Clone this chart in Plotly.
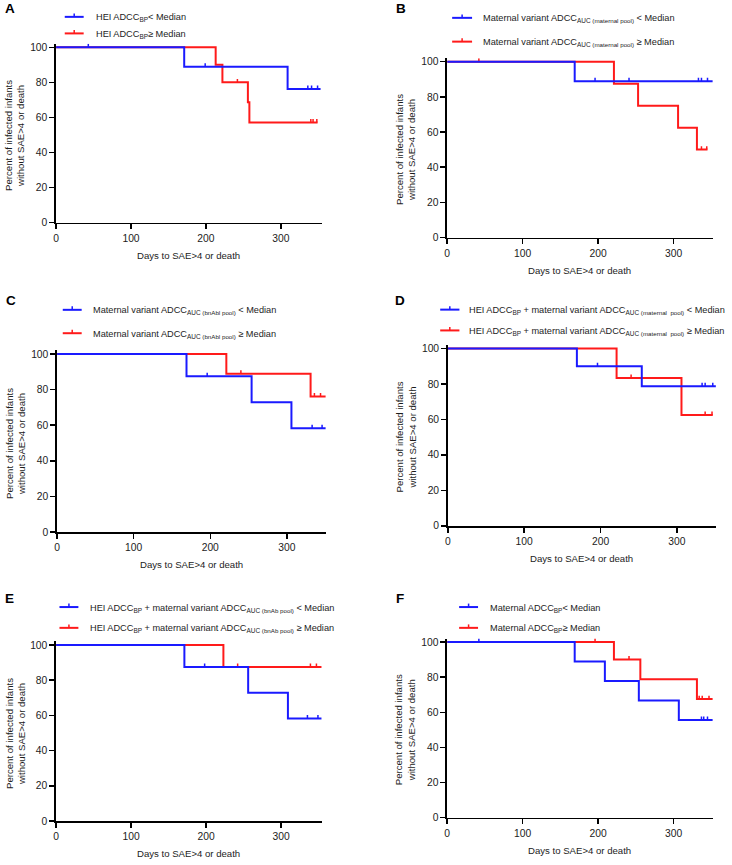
import plotly.graph_objects as go

# ------------------------------------------------------------------ data
X_TICKS = [0, 100, 200, 300]
Y_TICKS = [0, 20, 40, 60, 80, 100]
X_TITLE = "Days to SAE>4 or death"
Y_TITLE = "Percent of infected infants<br>without SAE>4 or death"

# Panel A
A_low_times = [0, 171, 309]
A_low_surv = [100, 88.9, 76.2]
A_low_censor = [43, 199, 336, 341, 349]
A_low_end = 353
A_high_times = [0, 213, 222, 256, 258]
A_high_surv = [100, 90, 80, 68.6, 57.1]
A_high_censor = [242, 340, 343, 348]
A_high_end = 349
A_labels = ["HEI ADCC<sub>BP</sub>< Median", "HEI ADCC<sub>BP</sub>\u2265 Median"]

# Panel B
B_low_times = [0, 169]
B_low_surv = [100, 88.9]
B_low_censor = [196, 241, 333, 337, 345]
B_low_end = 352
B_high_times = [0, 221, 253, 306, 331]
B_high_surv = [100, 87.5, 75, 62.5, 50]
B_high_censor = [42, 337, 344]
B_high_end = 345
B_labels = [
    "Maternal variant ADCC<sub>AUC <span style='font-size:6.2px'>(maternal pool)</span></sub> < Median",
    "Maternal variant ADCC<sub>AUC <span style='font-size:6.2px'>(maternal pool)</span></sub> \u2265 Median",
]

# Panel C
C_low_times = [0, 169, 254, 306]
C_low_surv = [100, 87.5, 72.9, 58.3]
C_low_censor = [196, 333, 346]
C_low_end = 351
C_high_times = [0, 221, 331]
C_high_surv = [100, 88.9, 76.2]
C_high_censor = [240, 336, 344]
C_high_end = 351
C_labels = [
    "Maternal variant ADCC<sub>AUC <span style='font-size:6.2px'>(bnAbl pool)</span></sub> < Median",
    "Maternal variant ADCC<sub>AUC <span style='font-size:6.2px'>(bnAbl pool)</span></sub> \u2265 Median",
]

# Panel D
D_low_times = [0, 169, 254]
D_low_surv = [100, 90, 78.75]
D_low_censor = [196, 333, 337, 347]
D_low_end = 351
D_high_times = [0, 221, 306]
D_high_surv = [100, 83.3, 62.5]
D_high_censor = [240, 337, 346]
D_high_end = 347
D_labels = [
    "HEI ADCC<sub>BP</sub> + maternal variant ADCC<sub>AUC <span style='font-size:6.2px'>(maternal  pool)</span></sub> < Median",
    "HEI ADCC<sub>BP</sub> + maternal variant ADCC<sub>AUC <span style='font-size:6.2px'>(maternal  pool)</span></sub> \u2265 Median",
]

# Panel E
E_low_times = [0, 171, 256, 309]
E_low_surv = [100, 87.5, 72.9, 58.3]
E_low_censor = [198, 335, 349]
E_low_end = 354
E_high_times = [0, 223]
E_high_surv = [100, 87.5]
E_high_censor = [242, 339, 347]
E_high_end = 354
E_labels = [
    "HEI ADCC<sub>BP</sub> + maternal variant ADCC<sub>AUC <span style='font-size:6.2px'>(bnAb pool)</span></sub> < Median",
    "HEI ADCC<sub>BP</sub> + maternal variant ADCC<sub>AUC <span style='font-size:6.2px'>(bnAb pool)</span></sub> \u2265 Median",
]

# Panel F
F_low_times = [0, 169, 209, 254, 307]
F_low_surv = [100, 88.9, 77.8, 66.7, 55.6]
F_low_censor = [42, 337, 340, 345]
F_low_end = 352
F_high_times = [0, 221, 256, 331]
F_high_surv = [100, 90, 78.75, 67.5]
F_high_censor = [196, 241, 334, 338, 347]
F_high_end = 352
F_labels = ["Maternal ADCC<sub>BP</sub>< Median", "Maternal ADCC<sub>BP</sub>\u2265 Median"]

DATA = {
    "A": [(A_high_times, A_high_surv, A_high_censor, A_high_end), (A_low_times, A_low_surv, A_low_censor, A_low_end), A_labels],
    "B": [(B_high_times, B_high_surv, B_high_censor, B_high_end), (B_low_times, B_low_surv, B_low_censor, B_low_end), B_labels],
    "C": [(C_high_times, C_high_surv, C_high_censor, C_high_end), (C_low_times, C_low_surv, C_low_censor, C_low_end), C_labels],
    "D": [(D_high_times, D_high_surv, D_high_censor, D_high_end), (D_low_times, D_low_surv, D_low_censor, D_low_end), D_labels],
    "E": [(E_high_times, E_high_surv, E_high_censor, E_high_end), (E_low_times, E_low_surv, E_low_censor, E_low_end), E_labels],
    "F": [(F_high_times, F_high_surv, F_high_censor, F_high_end), (F_low_times, F_low_surv, F_low_censor, F_low_end), F_labels],
}

# ------------------------------------------------------------------ layout (pixel geometry)
W, H = 732, 865
PANELS = {
    "A": dict(x0=53.3, x1=320, y0=222.7, y100=45.7, xmax=354.5, letter=(0.5, 6.5), leg=(15, 31.7), glyph=(62, 81), tx=91, ytx=12),
    "B": dict(x0=446, x1=712.7, y0=237.7, y100=60.3, xmax=352, letter=(392.7, 6.7), leg=(16, 40), glyph=(451, 471), tx=480, ytx=404),
    "C": dict(x0=54.3, x1=324, y0=535, y100=355.3, xmax=350.7, letter=(1.5, 301.7), leg=(310.7, 334.3), glyph=(60, 79), tx=88, ytx=12),
    "D": dict(x0=446.7, x1=716, y0=528.7, y100=349.7, xmax=351.3, letter=(392, 301.7), leg=(310.5, 331.5), glyph=(439, 458.3), tx=466, ytx=404),
    "E": dict(x0=53.3, x1=320, y0=826.7, y100=649, xmax=354, letter=(0.5, 601.7), leg=(610.7, 631.7), glyph=(56.7, 75.7), tx=85, ytx=12),
    "F": dict(x0=446, x1=712.7, y0=823.3, y100=646, xmax=352, letter=(392.7, 601.7), leg=(610.7, 631.7), glyph=(458, 477), tx=486.7, ytx=404),
}
YTOP = 102.0
COLORS = ["#ff1a1a", "#1a1aff"]  # high (red), low (blue)
FONT = "Arial, Liberation Sans, Helvetica, sans-serif"
TXT = "#1c1c1c"


def px(x):
    return x / W


def py(y):
    return 1 - y / H


def surv_at(times, surv, t):
    s = surv[0]
    for ti, si in zip(times, surv):
        if ti <= t:
            s = si
    return s


fig = go.Figure()
layout = dict(
    width=W, height=H, margin=dict(l=0, r=0, t=0, b=0),
    paper_bgcolor="white", plot_bgcolor="white", showlegend=False,
    font=dict(family=FONT, color=TXT),
)
annotations = []
shapes = []

for i, key in enumerate(["A", "B", "C", "D", "E", "F"]):
    p = PANELS[key]
    n = "" if i == 0 else str(i + 1)
    xa, ya = "x" + n, "y" + n
    pxh = (p["y0"] - p["y100"]) / 100.0
    ytop_px = p["y100"] - (YTOP - 100) * pxh
    axis_common = dict(
        showline=True, linecolor="black", linewidth=1.7,
        ticks="outside", ticklen=5, tickwidth=1.5, tickcolor="black",
        showgrid=False, zeroline=False, fixedrange=True,
        tickfont=dict(size=10.3, family=FONT, color=TXT),
    )
    layout["xaxis" + n] = dict(
        axis_common, domain=[px(p["x0"]), px(p["x1"])], range=[0, p["xmax"]],
        tickvals=X_TICKS, anchor=ya,
    )
    layout["yaxis" + n] = dict(
        axis_common, domain=[py(p["y0"]), py(ytop_px)], range=[0, YTOP],
        tickvals=Y_TICKS, anchor=xa,
    )
    high, low, labels = DATA[key]
    tick_h = 3.5 / pxh
    for (times, surv, cens, end), col in zip([high, low], COLORS):
        xs = list(times) + [end]
        ys = list(surv) + [surv[-1]]
        fig.add_trace(go.Scatter(
            x=xs, y=ys, mode="lines", line=dict(color=col, width=2, shape="hv"),
            xaxis=xa, yaxis=ya, hoverinfo="skip",
        ))
        cy = [surv_at(times, surv, t) for t in cens]
        fig.add_trace(go.Scatter(
            x=cens, y=cy, mode="markers",
            marker=dict(size=1, color="rgba(0,0,0,0)"),
            error_y=dict(type="data", symmetric=False, array=[tick_h] * len(cens),
                         arrayminus=[0] * len(cens), width=0, thickness=1.5, color=col),
            xaxis=xa, yaxis=ya, hoverinfo="skip",
        ))
    # panel letter
    lx, ly = p["letter"]
    annotations.append(dict(
        x=px(lx), y=py(ly), xref="paper", yref="paper", xanchor="left", yanchor="middle",
        text="<b>%s</b>" % key, showarrow=False, font=dict(size=13.5, color="black", family=FONT),
    ))
    # legend (lower group first = blue)
    for j, (col, lab, yy) in enumerate(zip([COLORS[1], COLORS[0]], labels, p["leg"])):
        g0, g1 = p["glyph"]
        shapes.append(dict(type="line", xref="paper", yref="paper",
                           x0=px(g0), x1=px(g1), y0=py(yy), y1=py(yy),
                           line=dict(color=col, width=2)))
        gm = (g0 + g1) / 2
        shapes.append(dict(type="line", xref="paper", yref="paper",
                           x0=px(gm), x1=px(gm), y0=py(yy), y1=py(yy - 3.5),
                           line=dict(color=col, width=1.5)))
        annotations.append(dict(
            x=px(p["tx"]), y=py(yy), xref="paper", yref="paper", xanchor="left", yanchor="middle",
            text=lab, showarrow=False, font=dict(size=9.2, color=TXT, family=FONT), yshift=-1,
        ))
    # axis titles
    annotations.append(dict(
        x=px((p["x0"] + p["x1"]) / 2), y=py(p["y0"] + 33), xref="paper", yref="paper",
        xanchor="center", yanchor="middle", text=X_TITLE, showarrow=False,
        font=dict(size=9.6, color=TXT, family=FONT),
    ))
    annotations.append(dict(
        x=px(p["ytx"]), y=py((p["y0"] + p["y100"]) / 2), xref="paper", yref="paper",
        xanchor="center", yanchor="middle", text=Y_TITLE, showarrow=False, textangle=-90,
        font=dict(size=9.6, color=TXT, family=FONT),
    ))

layout["annotations"] = annotations
layout["shapes"] = shapes
fig.update_layout(**layout)
fig.write_html(
    "out.html",
    config={"displayModeBar": False, "staticPlot": True},
    post_script="document.body.style.margin='0';document.body.style.padding='0';document.body.style.overflow='hidden';",
)
